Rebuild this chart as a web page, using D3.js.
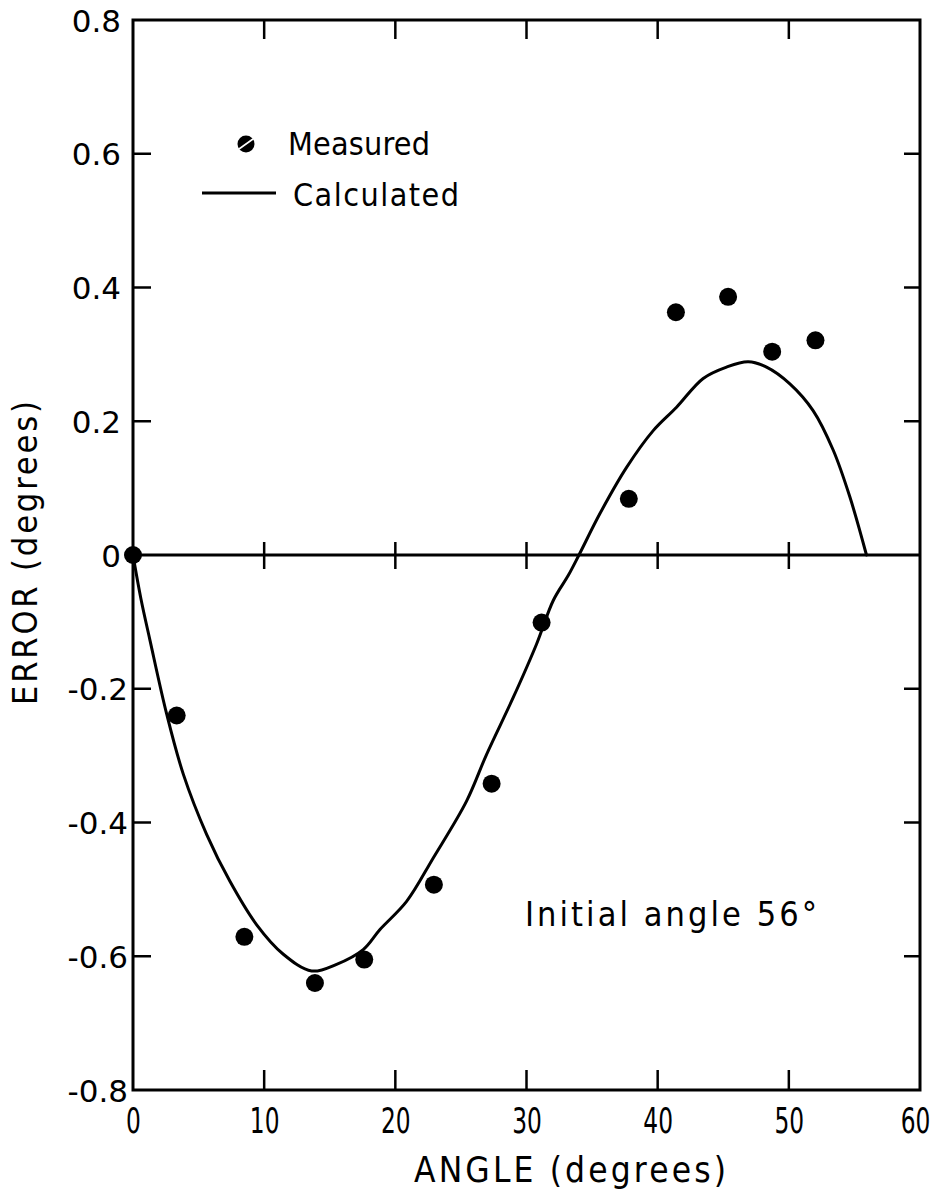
<!DOCTYPE html>
<html>
<head>
<meta charset="utf-8">
<script src="https://cdn.jsdelivr.net/npm/d3@7"></script>
<style>
  html, body { margin: 0; padding: 0; background: #fff; }
  svg { display: block; }
</style>
</head>
<body>
<svg id="chart" width="942" height="1195"></svg>
<script>
// ---- data ----
const xTicks = [0, 10, 20, 30, 40, 50, 60];
const xTickLabels = ["0", "10", "20", "30", "40", "50", "60"];
const yTicks = [-0.8, -0.6, -0.4, -0.2, 0, 0.2, 0.4, 0.6, 0.8];
const yTickLabels = ["-0.8", "-0.6", "-0.4", "-0.2", "0", "0.2", "0.4", "0.6", "0.8"];

const measuredAngle = [0, 3.33, 8.49, 13.87, 17.63, 22.94, 27.34, 31.15, 37.8, 41.39, 45.37, 48.73, 52.03];
const measuredError = [0, -0.240, -0.571, -0.640, -0.605, -0.493, -0.342, -0.101, 0.084, 0.363, 0.386, 0.304, 0.321];

const calcAngle = [0, 0.6, 1.3, 2.57, 3.84, 5.62, 7.39, 9.43, 11.46, 13.62, 15.52, 17.55, 18.83, 20.86, 22.89, 25.43, 26.96, 28.99, 30.77, 32.04, 33.2, 34.0, 35.6, 37.63, 39.66, 41.44, 43.47, 45.25, 46.9, 48.3, 50.08, 51.85, 53.38, 54.65, 55.92];
const calcError = [0, -0.065, -0.128, -0.238, -0.328, -0.418, -0.488, -0.553, -0.597, -0.622, -0.612, -0.590, -0.560, -0.518, -0.453, -0.368, -0.298, -0.213, -0.133, -0.068, -0.03, 0, 0.062, 0.131, 0.186, 0.221, 0.264, 0.281, 0.289, 0.281, 0.256, 0.216, 0.157, 0.087, 0.0];

const xTitle = "ANGLE (degrees)";
const yTitle = "ERROR (degrees)";
const legendMeasured = "Measured";
const legendCalculated = "Calculated";
const annotation = "Initial angle 56\u00B0";

// ---- layout ----
const L = 133, R = 920, T = 20, B = 1090;
const svg = d3.select("#chart");
const x = d3.scaleLinear().domain([0, 60]).range([L, R]);
const y = d3.scaleLinear().domain([-0.8, 0.8]).range([B, T]);

const narrow = "'Liberation Sans Narrow', 'DejaVu Sans Condensed', sans-serif";
const stroke = "#000";

// frame
svg.append("rect")
  .attr("x", L).attr("y", T).attr("width", R - L).attr("height", B - T)
  .attr("fill", "none").attr("stroke", stroke).attr("stroke-width", 3);

// zero line
svg.append("line")
  .attr("x1", x(0)).attr("x2", x(60)).attr("y1", y(0)).attr("y2", y(0))
  .attr("stroke", stroke).attr("stroke-width", 3);

const innerX = xTicks.filter(d => d > 0 && d < 60);
const innerY = yTicks.filter(d => d > -0.8 && d < 0.8 && d !== 0);

// x tick marks: top, bottom, and across the zero line
const tickG = svg.append("g").attr("stroke", stroke).attr("stroke-width", 2.5);
innerX.forEach(d => {
  tickG.append("line").attr("x1", x(d)).attr("x2", x(d)).attr("y1", T).attr("y2", T + 19);
  tickG.append("line").attr("x1", x(d)).attr("x2", x(d)).attr("y1", B).attr("y2", B - 20);
  tickG.append("line").attr("x1", x(d)).attr("x2", x(d)).attr("y1", y(0) - 13).attr("y2", y(0) + 14);
});
// y tick marks left and right
innerY.forEach(d => {
  tickG.append("line").attr("x1", L).attr("x2", L + 18).attr("y1", y(d)).attr("y2", y(d));
  tickG.append("line").attr("x1", R).attr("x2", R - 16).attr("y1", y(d)).attr("y2", y(d));
});

// x tick labels via axis (narrow lettering)
const xAxis = d3.axisBottom(x).tickValues(xTicks)
  .tickFormat((d, i) => xTickLabels[i]).tickSize(0).tickPadding(0);
const gx = svg.append("g").attr("transform", `translate(0,${B})`).call(xAxis);
gx.select(".domain").remove();
gx.selectAll("text")
  .attr("y", 43).attr("dy", null)
  .attr("x", d => d === 60 ? -7 : 0)
  .attr("transform", "scale(0.72,1)")
  .attr("font-family", narrow).attr("font-size", 36).attr("fill", stroke);

// y tick labels via axis
const yAxis = d3.axisLeft(y).tickValues(yTicks)
  .tickFormat((d, i) => yTickLabels[i]).tickSize(0).tickPadding(0);
const gy = svg.append("g").attr("transform", `translate(${L},0)`).call(yAxis);
gy.select(".domain").remove();
gy.selectAll("text")
  .attr("x", d => d < 0 ? -5 : -12).attr("dy", "0.36em")
  .attr("font-family", "'DejaVu Sans', sans-serif").attr("font-size", 31).attr("fill", stroke);

// calculated curve
const pts = calcAngle.map((a, i) => [a, calcError[i]]);
svg.append("path")
  .datum(pts)
  .attr("d", d3.line().x(d => x(d[0])).y(d => y(d[1])).curve(d3.curveCatmullRom.alpha(0.5)))
  .attr("fill", "none").attr("stroke", stroke).attr("stroke-width", 3)
  .attr("stroke-linejoin", "round").attr("stroke-linecap", "round");

// measured points
const meas = measuredAngle.map((a, i) => [a, measuredError[i]]);
svg.append("g").selectAll("circle").data(meas).join("circle")
  .attr("cx", d => x(d[0])).attr("cy", d => y(d[1])).attr("r", 9)
  .attr("fill", stroke);

// legend
const lg = svg.append("g");
lg.append("circle").attr("cx", 246).attr("cy", 144).attr("r", 8.5).attr("fill", stroke);
lg.append("line").attr("x1", 239).attr("y1", 149).attr("x2", 253).attr("y2", 139)
  .attr("stroke", "#fff").attr("stroke-width", 1.6);
lg.append("text").attr("x", 288).attr("y", 155)
  .attr("font-family", narrow).attr("font-size", 32)
  .attr("textLength", 142).attr("lengthAdjust", "spacing").text(legendMeasured);
lg.append("line").attr("x1", 202).attr("x2", 276).attr("y1", 193).attr("y2", 193)
  .attr("stroke", stroke).attr("stroke-width", 3);
lg.append("text").attr("x", 293).attr("y", 206)
  .attr("font-family", narrow).attr("font-size", 32)
  .attr("textLength", 166).attr("lengthAdjust", "spacing").text(legendCalculated);

// annotation
svg.append("text").attr("x", 525).attr("y", 926)
  .attr("font-family", narrow).attr("font-size", 34)
  .attr("textLength", 292).attr("lengthAdjust", "spacing").text(annotation);

// axis titles
svg.append("text").attr("x", 414).attr("y", 1182)
  .attr("font-family", narrow).attr("font-size", 35)
  .attr("textLength", 312).attr("lengthAdjust", "spacing").text(xTitle);

svg.append("text")
  .attr("transform", `translate(37,${553 + 152}) rotate(-90)`)
  .attr("font-family", narrow).attr("font-size", 34)
  .attr("textLength", 304).attr("lengthAdjust", "spacing").text(yTitle);
</script>
</body>
</html>
